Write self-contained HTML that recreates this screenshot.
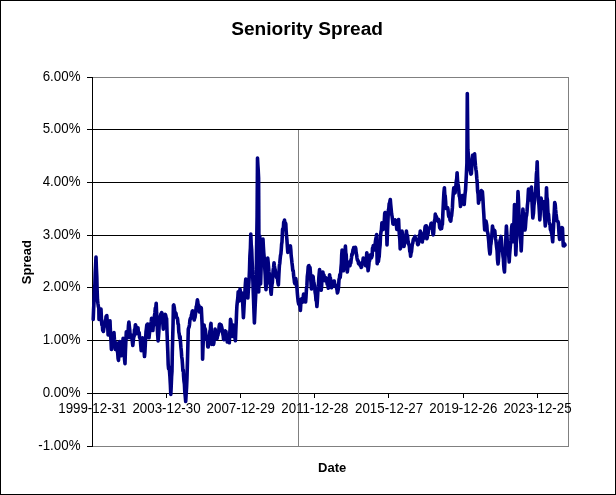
<!DOCTYPE html>
<html><head><meta charset="utf-8"><title>Seniority Spread</title>
<style>html,body{margin:0;padding:0;background:#fff;}body{width:616px;height:495px;position:relative;overflow:hidden;font-family:"Liberation Sans",sans-serif;}</style></head>
<body>
<svg width="616" height="495" viewBox="0 0 616 495" style="position:absolute;left:0;top:0;will-change:transform">
<rect x="0.5" y="0.5" width="615" height="494" fill="#fff" stroke="#000" stroke-width="1"/>
<g shape-rendering="crispEdges">
<rect x="92.5" y="77.5" width="476" height="369" fill="none" stroke="#808080" stroke-width="1"/>
<line x1="92" y1="129.5" x2="568" y2="129.5" stroke="#000" stroke-width="1"/>
<line x1="92" y1="182.5" x2="568" y2="182.5" stroke="#000" stroke-width="1"/>
<line x1="92" y1="235.5" x2="568" y2="235.5" stroke="#000" stroke-width="1"/>
<line x1="92" y1="287.5" x2="568" y2="287.5" stroke="#000" stroke-width="1"/>
<line x1="92" y1="340.5" x2="568" y2="340.5" stroke="#000" stroke-width="1"/>
<line x1="92" y1="393.5" x2="568" y2="393.5" stroke="#000" stroke-width="1"/>
<line x1="298.5" y1="130" x2="298.5" y2="446" stroke="#808080" stroke-width="1"/>
<line x1="92.5" y1="77" x2="92.5" y2="447" stroke="#000" stroke-width="1"/>
<line x1="87" y1="77.5" x2="92" y2="77.5" stroke="#000" stroke-width="1"/>
<line x1="87" y1="129.5" x2="92" y2="129.5" stroke="#000" stroke-width="1"/>
<line x1="87" y1="182.5" x2="92" y2="182.5" stroke="#000" stroke-width="1"/>
<line x1="87" y1="235.5" x2="92" y2="235.5" stroke="#000" stroke-width="1"/>
<line x1="87" y1="287.5" x2="92" y2="287.5" stroke="#000" stroke-width="1"/>
<line x1="87" y1="340.5" x2="92" y2="340.5" stroke="#000" stroke-width="1"/>
<line x1="87" y1="393.5" x2="92" y2="393.5" stroke="#000" stroke-width="1"/>
<line x1="87" y1="446.5" x2="92" y2="446.5" stroke="#000" stroke-width="1"/>
<line x1="92.5" y1="393" x2="92.5" y2="398" stroke="#000" stroke-width="1"/>
<line x1="166.5" y1="393" x2="166.5" y2="398" stroke="#000" stroke-width="1"/>
<line x1="240.5" y1="393" x2="240.5" y2="398" stroke="#000" stroke-width="1"/>
<line x1="314.5" y1="393" x2="314.5" y2="398" stroke="#000" stroke-width="1"/>
<line x1="388.5" y1="393" x2="388.5" y2="398" stroke="#000" stroke-width="1"/>
<line x1="463.5" y1="393" x2="463.5" y2="398" stroke="#000" stroke-width="1"/>
<line x1="537.5" y1="393" x2="537.5" y2="398" stroke="#000" stroke-width="1"/>
</g>
<polyline points="93.2,319.5 93.6,309.4 94.1,300.1 94.5,290.0 94.9,284.0 95.2,273.3 95.6,265.3 96.0,257.0 96.4,268.2 96.8,276.9 97.1,289.3 97.5,300.0 97.9,303.3 98.4,306.7 98.8,307.8 99.0,319.5 99.4,315.3 99.8,314.3 100.2,311.1 100.6,312.7 101.0,309.0 101.6,322.0 101.9,325.0 102.3,323.6 102.7,330.5 103.0,330.0 103.4,331.4 103.8,328.7 104.1,327.4 104.5,324.0 104.9,324.7 105.3,320.4 105.7,321.2 106.0,316.9 106.4,315.8 106.8,315.6 107.2,320.7 107.7,326.1 108.1,335.0 108.5,332.0 108.9,329.0 109.2,328.3 109.6,323.7 110.0,320.8 110.3,328.7 110.7,335.1 111.1,343.1 111.4,349.4 111.8,346.4 112.3,342.6 112.7,343.5 113.1,340.7 113.6,337.1 114.0,332.5 114.4,339.2 114.9,342.8 115.3,349.4 115.7,345.8 116.2,344.0 116.6,342.9 117.0,344.2 117.4,351.3 117.7,352.9 118.1,358.7 118.5,360.4 118.9,353.5 119.4,350.2 119.8,341.6 120.2,348.1 120.7,348.5 121.1,355.8 121.5,350.8 121.9,350.9 122.3,345.1 122.7,344.3 123.1,338.3 123.5,342.8 123.9,346.2 124.2,354.2 124.6,360.0 125.0,363.6 125.4,351.8 125.9,340.3 126.3,331.8 126.7,332.9 127.2,338.1 127.6,337.7 128.0,333.8 128.5,325.2 128.9,322.0 129.3,325.9 129.8,330.4 130.2,337.7 130.6,334.5 131.1,337.4 131.5,335.0 131.9,336.8 132.4,342.3 132.8,345.5 133.2,341.8 133.7,337.0 134.1,336.3 134.5,329.7 135.0,328.9 135.4,324.7 135.8,325.7 136.3,330.4 136.7,333.8 137.1,330.3 137.6,328.7 138.0,327.9 138.4,332.3 138.8,333.4 139.2,332.8 139.6,337.7 140.0,337.7 140.4,340.5 140.8,345.8 141.2,350.6 141.6,348.1 142.1,342.7 142.5,337.7 142.9,339.4 143.3,347.8 143.7,347.5 144.1,351.5 144.5,356.5 144.9,352.3 145.3,344.5 145.6,338.7 146.0,332.0 146.4,328.6 146.8,324.9 147.3,326.0 147.7,324.0 148.1,327.2 148.6,333.7 149.0,337.7 149.4,333.8 149.9,331.0 150.3,330.3 150.7,324.6 151.2,321.8 151.6,318.2 152.0,324.2 152.5,324.8 152.9,330.5 153.3,325.2 153.7,325.6 154.1,321.7 154.5,315.2 154.9,313.0 155.3,308.1 155.8,307.7 156.2,303.2 156.6,313.0 157.0,316.7 157.3,328.2 157.7,335.3 158.1,340.9 158.5,336.6 158.9,330.9 159.2,324.4 159.6,319.3 160.0,316.9 160.4,318.5 160.8,314.0 161.2,315.6 161.6,312.5 162.0,313.0 162.4,320.1 162.9,324.3 163.3,329.2 163.7,324.8 164.2,320.9 164.6,320.4 165.0,316.0 165.4,314.4 165.8,315.9 166.2,318.3 166.6,318.6 167.0,331.9 167.4,342.1 167.8,351.9 168.2,364.5 168.6,368.8 169.1,367.3 169.5,371.0 169.9,376.3 170.4,385.4 170.8,394.4 171.2,386.3 171.6,376.5 172.0,371.0 172.3,353.0 172.7,337.6 173.1,322.3 173.4,305.6 173.8,305.0 174.3,307.5 174.7,311.5 175.1,313.3 175.6,312.9 176.0,313.4 176.4,316.5 176.8,318.0 177.2,317.8 177.6,319.3 178.0,323.8 178.4,324.3 178.8,332.0 179.2,333.9 179.7,338.3 180.1,336.5 180.5,342.0 180.9,347.2 181.3,350.9 181.7,356.7 182.1,359.1 182.5,364.5 182.9,371.0 183.3,370.1 183.6,376.4 184.0,381.3 184.4,384.0 184.8,391.9 185.3,396.9 185.7,401.5 186.1,394.6 186.6,387.0 187.0,377.5 187.4,363.5 187.9,344.4 188.3,329.0 188.7,327.9 189.1,326.9 189.5,324.7 189.9,320.2 190.3,318.6 190.7,318.8 191.1,317.9 191.4,315.1 191.8,314.0 192.2,311.5 192.6,310.8 193.0,313.5 193.4,316.0 193.8,315.5 194.2,320.0 194.6,318.2 195.0,317.5 195.4,314.4 195.8,311.0 196.2,306.7 196.6,306.0 197.0,302.7 197.4,299.7 197.8,301.9 198.2,306.4 198.6,304.9 199.0,310.8 199.4,312.0 199.8,308.8 200.2,310.9 200.5,309.5 200.9,307.4 201.3,308.0 201.8,318.2 202.2,326.4 202.6,359.3 202.9,349.6 203.3,340.0 203.7,333.1 204.1,325.0 204.5,329.5 204.9,328.3 205.3,329.3 205.7,333.1 206.1,336.4 206.5,339.4 206.9,339.1 207.4,341.0 207.8,346.9 208.2,346.9 208.5,344.8 208.9,340.6 209.2,340.0 209.6,335.0 209.9,331.2 210.3,330.1 210.7,324.7 211.0,323.4 211.4,333.6 211.8,344.5 212.2,341.8 212.6,336.0 213.1,342.4 213.5,344.5 213.9,342.6 214.3,336.1 214.7,333.3 215.1,329.0 215.5,331.3 215.9,333.6 216.3,338.8 216.7,337.7 217.1,338.4 217.5,335.5 217.9,335.4 218.3,332.8 218.7,332.2 219.1,326.8 219.5,324.4 219.9,324.2 220.3,324.7 220.7,324.6 221.2,325.1 221.6,327.0 222.0,328.2 222.4,331.7 222.8,333.9 223.2,335.8 223.6,339.6 224.0,339.7 224.4,338.9 224.8,334.5 225.2,330.9 225.6,331.5 226.0,331.7 226.4,338.7 226.9,337.0 227.3,342.0 227.8,340.1 228.3,336.0 228.8,339.8 229.3,342.8 229.7,334.0 230.1,328.6 230.5,319.3 230.9,321.1 231.3,326.0 231.7,331.9 232.1,336.4 232.5,330.1 232.9,330.5 233.3,325.0 233.7,326.8 234.1,329.5 234.6,332.1 235.0,338.3 235.4,340.8 235.8,330.9 236.2,322.3 236.6,312.0 236.9,306.0 237.3,302.0 237.8,298.1 238.2,291.7 238.7,298.7 239.2,301.0 239.6,296.0 240.0,289.0 240.5,292.9 241.0,300.0 241.5,296.4 242.0,293.0 242.3,297.5 242.7,302.8 243.1,311.4 243.4,317.7 243.8,311.4 244.3,301.3 244.7,295.6 245.1,288.9 245.4,283.7 245.8,279.0 246.2,283.8 246.6,286.7 247.1,291.0 247.5,295.5 247.9,298.0 248.3,290.4 248.7,285.5 249.1,279.1 249.5,270.0 249.9,255.9 250.4,248.2 250.8,234.0 251.2,244.2 251.7,250.1 252.1,260.8 252.5,270.0 252.9,281.3 253.3,293.3 253.6,301.2 254.0,312.8 254.4,323.0 254.8,314.2 255.3,303.0 255.8,293.1 256.2,280.0 256.6,247.8 257.1,216.0 257.5,158.0 257.9,165.5 258.2,169.8 258.6,178.0 258.9,240.0 258.7,292.0 259.1,274.5 259.4,256.3 259.8,236.0 260.2,260.7 260.6,284.0 261.1,268.1 261.6,250.0 262.1,244.8 262.5,244.7 263.0,239.0 263.4,247.2 263.8,253.0 264.1,256.4 264.5,262.0 264.9,270.4 265.2,274.9 265.6,284.9 266.0,289.7 266.4,283.6 266.9,273.1 267.3,263.8 267.7,258.0 268.1,261.7 268.5,266.3 268.9,271.5 269.3,274.1 269.6,275.7 270.0,283.8 270.4,284.0 270.8,291.8 271.2,294.3 271.6,288.1 272.0,284.4 272.4,282.3 272.8,274.4 273.2,270.0 273.6,267.4 274.0,262.8 274.4,266.0 274.8,268.6 275.2,269.9 275.6,273.2 276.0,272.9 276.4,277.3 276.8,277.0 277.2,276.8 277.6,279.6 278.0,283.1 278.4,285.0 278.9,274.1 279.4,265.4 279.8,263.2 280.1,259.4 280.5,255.5 280.9,253.8 281.3,249.0 281.6,244.4 282.0,242.0 282.3,234.9 282.6,229.0 283.0,229.0 283.4,227.5 283.7,222.1 284.1,223.6 284.5,220.0 284.9,223.8 285.4,222.8 285.8,224.0 286.1,230.1 286.5,235.5 286.9,239.6 287.4,247.0 287.8,252.4 288.2,251.3 288.7,250.8 289.1,246.7 289.5,250.5 290.0,247.1 290.4,245.9 290.8,249.7 291.2,256.0 291.6,259.1 292.0,263.0 292.4,266.2 292.8,270.5 293.2,270.5 293.7,276.2 294.1,278.8 294.5,282.5 294.9,283.6 295.4,282.1 295.8,278.6 296.2,281.3 296.6,286.2 297.0,288.3 297.4,293.8 297.8,298.0 298.2,301.7 298.7,304.2 299.1,304.1 299.5,305.3 300.0,306.7 300.4,310.4 300.7,305.5 301.0,299.4 301.4,302.1 301.8,298.5 302.2,302.4 302.6,299.0 303.0,302.0 303.3,296.4 303.6,294.0 304.0,294.2 304.4,298.2 304.8,297.9 305.2,299.6 305.6,302.0 306.0,296.8 306.5,288.2 306.9,285.7 307.3,276.6 307.8,272.8 308.2,266.9 308.6,265.7 308.9,265.6 309.3,267.4 309.6,267.1 310.0,267.5 310.5,274.0 310.9,281.4 311.4,289.0 311.8,284.8 312.3,278.6 312.7,276.0 313.1,276.5 313.5,280.8 313.9,283.0 314.3,284.5 314.7,286.4 315.1,292.2 315.6,295.0 316.0,300.3 316.5,301.1 316.9,306.5 317.3,301.9 317.6,296.4 318.0,289.0 318.4,286.2 318.8,278.3 319.2,273.4 319.6,269.5 320.0,276.9 320.4,278.4 320.8,287.7 321.2,290.3 321.6,286.2 322.1,276.2 322.5,272.0 322.9,272.0 323.3,275.8 323.6,274.7 324.0,275.2 324.4,278.6 324.8,280.6 325.2,278.8 325.6,280.9 326.0,277.8 326.4,280.0 326.8,281.2 327.2,284.3 327.5,282.5 327.9,285.1 328.3,288.3 328.7,284.7 329.2,281.4 329.6,274.7 330.0,279.7 330.4,277.9 330.8,282.5 331.2,286.4 331.6,287.7 332.0,286.7 332.4,286.6 332.7,283.0 333.1,281.3 333.5,282.5 333.9,281.0 334.3,281.1 334.7,284.3 335.1,284.6 335.5,285.0 335.9,286.9 336.3,286.3 336.6,288.1 337.0,289.8 337.4,292.9 337.8,291.8 338.2,289.7 338.6,286.5 339.0,279.4 339.4,278.6 339.8,274.6 340.2,277.5 340.6,273.4 341.0,267.4 341.4,263.1 341.7,254.9 342.1,250.0 342.5,256.8 343.0,263.9 343.4,270.8 343.8,265.5 344.2,261.4 344.6,253.4 345.0,252.0 345.4,246.0 345.8,253.0 346.2,254.7 346.5,261.4 346.9,268.0 347.3,272.0 347.7,268.5 348.2,264.4 348.6,263.0 349.1,262.1 349.5,264.8 350.0,265.6 350.4,260.8 350.8,263.0 351.1,260.2 351.5,257.4 351.9,254.0 352.3,254.6 352.7,252.1 353.0,249.6 353.4,249.3 353.8,247.5 354.2,247.8 354.6,250.5 355.0,249.9 355.4,247.3 355.8,248.8 356.2,253.3 356.6,254.8 356.9,257.3 357.3,259.8 357.7,260.5 358.1,260.5 358.5,263.6 358.9,264.0 359.3,263.5 359.7,263.0 360.1,265.2 360.5,266.0 360.8,264.9 361.2,267.4 361.6,267.0 362.0,263.2 362.4,263.0 362.8,262.0 363.2,258.1 363.6,259.0 364.0,259.6 364.4,262.4 364.7,263.6 365.1,262.9 365.5,265.6 365.9,263.6 366.4,257.9 366.8,252.7 367.2,257.9 367.7,265.6 368.1,270.8 368.5,268.0 368.9,264.7 369.2,260.7 369.6,260.8 370.0,255.0 370.5,256.7 370.9,258.0 371.4,257.9 371.8,256.8 372.2,255.4 372.5,248.0 372.9,248.6 373.3,245.5 373.7,248.2 374.2,247.2 374.6,250.0 375.0,246.4 375.4,241.5 375.8,239.1 376.2,237.0 376.6,234.5 377.2,263.7 377.6,260.2 378.0,259.5 378.4,261.5 378.8,258.2 379.2,256.5 379.6,249.6 380.1,245.1 380.5,235.8 381.0,231.9 381.4,229.8 381.9,222.9 382.3,225.8 382.8,228.8 383.2,229.4 383.6,223.8 384.0,223.1 384.3,220.6 384.7,213.5 385.1,212.5 385.5,218.6 386.0,218.4 386.4,224.0 386.7,234.3 387.0,244.9 387.5,231.5 387.9,221.6 388.4,210.0 388.8,208.5 389.2,203.5 389.5,206.0 389.9,201.2 390.3,199.5 390.7,204.4 391.2,209.5 391.6,213.8 392.1,216.5 392.5,219.5 393.0,224.0 393.4,224.2 393.8,223.1 394.2,221.0 394.7,222.7 395.1,219.9 395.5,220.3 395.9,220.8 396.4,225.0 396.8,229.4 397.2,225.0 397.5,223.7 397.9,224.8 398.2,220.9 398.6,219.5 399.0,228.9 399.4,235.5 399.8,239.3 400.2,249.0 400.6,247.9 400.9,244.1 401.3,236.0 401.6,236.7 402.0,231.0 402.4,233.7 402.8,237.1 403.2,242.8 403.6,242.1 404.0,246.5 404.4,244.0 404.8,243.6 405.2,239.9 405.6,236.0 406.0,236.1 406.4,231.0 406.8,234.8 407.1,235.9 407.5,235.5 407.9,240.3 408.2,241.6 408.6,244.0 409.0,244.9 409.4,246.6 409.8,251.5 410.2,251.9 410.6,256.3 411.0,253.3 411.5,251.7 411.9,247.9 412.3,244.2 412.8,243.1 413.2,240.0 413.6,238.8 413.9,239.9 414.3,237.9 414.6,239.5 415.0,236.2 415.5,239.8 415.9,240.0 416.4,240.0 416.8,239.4 417.2,239.6 417.6,244.4 418.0,244.7 418.4,244.0 418.8,242.0 419.2,238.1 419.5,235.0 419.9,234.6 420.3,231.0 420.7,233.5 421.1,235.9 421.5,238.3 421.9,241.1 422.3,242.0 422.7,238.4 423.1,236.8 423.4,238.7 423.8,236.4 424.2,232.3 424.6,233.0 425.0,227.3 425.4,226.1 425.8,225.9 426.2,225.8 426.5,231.9 426.8,238.8 427.2,237.7 427.7,233.3 428.1,233.8 428.5,229.6 429.0,228.0 429.4,228.4 429.8,228.3 430.2,226.6 430.6,226.0 431.0,223.6 431.4,223.2 431.8,225.4 432.2,226.4 432.5,229.4 432.9,233.8 433.3,234.9 433.7,232.5 434.1,224.3 434.5,220.4 434.9,219.8 435.3,214.0 435.7,216.0 436.1,218.0 436.4,216.5 436.8,218.9 437.2,220.6 437.6,218.9 438.1,221.3 438.5,219.3 438.9,220.6 439.3,224.0 439.7,227.7 440.1,226.2 440.5,229.0 440.9,228.4 441.3,228.5 441.6,228.5 442.0,225.0 442.4,224.5 442.9,212.6 443.4,202.0 443.9,192.8 444.4,187.7 444.8,194.8 445.2,195.9 445.6,201.1 446.0,208.4 446.4,208.5 446.8,207.9 447.2,208.8 447.6,207.6 448.0,209.6 448.5,215.1 448.9,216.7 449.3,215.4 449.7,217.0 450.0,220.2 450.4,218.1 450.8,221.2 451.2,216.9 451.6,215.9 452.0,211.5 452.4,207.7 452.7,200.9 453.1,195.4 453.4,191.7 453.8,187.7 454.2,190.6 454.7,190.5 455.1,192.9 455.5,186.9 455.9,185.9 456.3,181.1 456.7,178.9 457.1,172.7 457.5,179.6 458.0,184.0 458.4,186.4 458.8,190.1 459.2,196.0 459.7,197.4 460.1,201.5 460.5,206.5 460.9,203.8 461.2,204.4 461.6,202.0 461.9,196.4 462.3,195.5 462.7,196.6 463.1,198.4 463.4,200.2 463.8,202.2 464.2,204.5 464.6,199.2 465.1,193.4 465.5,190.3 466.0,181.5 466.4,173.6 466.9,163.0 467.3,93.5 467.9,150.0 468.3,154.1 468.7,159.5 469.2,162.0 469.6,163.9 470.0,169.5 470.5,172.1 470.9,174.1 471.4,173.4 471.8,166.2 472.3,158.8 472.7,155.2 473.1,155.0 473.5,154.9 473.8,154.8 474.2,156.6 474.6,153.9 475.0,159.9 475.5,165.9 475.9,169.5 476.3,171.6 476.8,178.4 477.2,182.5 477.6,190.9 478.1,194.1 478.5,203.2 478.9,199.0 479.3,200.3 479.7,199.1 480.1,192.8 480.5,192.9 480.9,193.3 481.3,190.5 481.6,193.4 482.0,192.6 482.4,191.6 482.9,198.5 483.4,208.0 483.8,213.9 484.3,224.0 484.7,230.0 485.1,227.1 485.6,225.4 486.0,221.0 486.4,223.1 486.8,225.4 487.2,231.2 487.6,232.3 488.0,234.0 488.4,238.0 488.8,242.2 489.1,247.1 489.5,251.1 489.9,254.0 490.3,252.2 490.6,245.5 491.0,243.7 491.4,238.9 491.8,235.8 492.1,231.6 492.5,226.0 492.9,228.6 493.3,229.7 493.6,230.9 494.0,230.1 494.4,230.3 494.8,231.0 495.2,235.3 495.5,239.0 495.9,240.2 496.2,243.4 496.6,247.0 497.1,250.8 497.5,259.6 498.0,264.0 498.4,260.9 498.9,252.0 499.3,247.0 499.7,242.6 500.1,240.2 500.6,238.7 501.0,236.4 501.4,239.9 501.8,247.9 502.2,250.0 502.6,251.4 503.0,256.3 503.4,259.0 503.7,265.4 504.1,269.8 504.5,272.0 504.9,261.0 505.2,251.1 505.6,244.0 506.0,234.8 506.4,226.0 506.8,232.4 507.2,240.1 507.6,241.6 508.0,250.0 508.4,252.0 508.8,256.4 509.2,262.0 509.6,254.5 510.1,248.6 510.5,244.0 510.9,240.4 511.2,234.9 511.6,228.2 512.0,224.9 512.4,228.9 512.9,235.0 513.3,241.8 513.7,227.7 514.1,218.3 514.5,204.5 514.9,220.4 515.4,238.4 515.8,255.0 516.2,246.1 516.5,233.8 516.9,222.1 517.3,214.7 517.6,204.3 518.0,191.6 518.5,200.7 518.9,211.7 519.3,223.8 519.8,231.4 520.1,236.2 520.5,239.7 520.9,243.8 521.2,251.0 521.6,242.8 522.0,231.6 522.5,218.9 522.9,209.0 523.3,213.3 523.7,217.5 524.2,220.4 524.6,228.3 525.0,230.0 525.4,227.2 525.8,221.4 526.2,216.6 526.6,215.4 527.0,211.9 527.4,205.5 527.8,202.0 528.1,195.8 528.5,189.0 528.9,192.3 529.2,192.7 529.6,195.5 530.0,200.0 530.5,194.7 530.9,190.1 531.4,187.0 531.9,199.3 532.3,207.8 532.8,218.0 533.2,215.1 533.5,213.2 533.9,205.8 534.2,203.5 534.6,199.7 535.0,194.0 535.5,192.0 535.9,185.8 536.4,174.3 536.8,170.9 537.2,161.7 537.6,176.3 538.1,188.9 538.5,200.0 538.9,204.5 539.4,212.1 539.8,220.0 540.2,213.8 540.7,203.2 541.1,198.0 541.6,201.2 542.0,204.5 542.5,208.0 543.0,207.2 543.5,201.7 544.0,208.2 544.4,215.7 544.8,218.9 545.3,226.0 545.7,214.7 546.1,200.0 546.5,187.7 546.9,197.1 547.4,200.1 547.8,209.5 548.1,214.3 548.5,214.2 548.9,219.1 549.2,222.0 549.6,224.1 550.0,224.2 550.4,229.7 550.8,228.9 551.2,231.9 551.6,233.4 552.0,234.6 552.3,238.3 552.7,241.8 553.1,233.8 553.5,227.2 553.9,217.6 554.3,211.4 554.7,202.6 555.2,204.2 555.6,209.4 556.0,213.4 556.5,217.3 556.9,220.8 557.2,221.1 557.6,221.3 558.0,221.5 558.4,223.4 558.8,229.8 559.2,236.0 559.6,239.4 560.1,235.6 560.5,234.8 561.0,232.0 561.4,230.8 561.8,227.5 562.1,231.6 562.5,228.0 562.9,238.5 563.3,245.8 563.7,244.1 564.1,246.0 564.6,244.1 565.0,245.0" fill="none" stroke="#000080" stroke-width="3.6" stroke-linejoin="round" stroke-linecap="round"/>
<g font-family="Liberation Sans, sans-serif" fill="#000">
<text transform="translate(307.1,34.6)" font-size="19.1px" font-weight="bold" text-anchor="middle">Seniority Spread</text>
<text transform="translate(80.5,81) scale(1,1.11)" font-size="13.33px" text-anchor="end">6.00%</text>
<text transform="translate(80.5,133) scale(1,1.11)" font-size="13.33px" text-anchor="end">5.00%</text>
<text transform="translate(80.5,186) scale(1,1.11)" font-size="13.33px" text-anchor="end">4.00%</text>
<text transform="translate(80.5,239) scale(1,1.11)" font-size="13.33px" text-anchor="end">3.00%</text>
<text transform="translate(80.5,291) scale(1,1.11)" font-size="13.33px" text-anchor="end">2.00%</text>
<text transform="translate(80.5,344) scale(1,1.11)" font-size="13.33px" text-anchor="end">1.00%</text>
<text transform="translate(80.5,397) scale(1,1.11)" font-size="13.33px" text-anchor="end">0.00%</text>
<text transform="translate(80.5,450) scale(1,1.11)" font-size="13.33px" text-anchor="end">-1.00%</text>
<text transform="translate(92.3,413) scale(1,1.11)" font-size="13.33px" text-anchor="middle">1999-12-31</text>
<text transform="translate(166.5,413) scale(1,1.11)" font-size="13.33px" text-anchor="middle">2003-12-30</text>
<text transform="translate(240.7,413) scale(1,1.11)" font-size="13.33px" text-anchor="middle">2007-12-29</text>
<text transform="translate(314.9,413) scale(1,1.11)" font-size="13.33px" text-anchor="middle">2011-12-28</text>
<text transform="translate(389.1,413) scale(1,1.11)" font-size="13.33px" text-anchor="middle">2015-12-27</text>
<text transform="translate(463.3,413) scale(1,1.11)" font-size="13.33px" text-anchor="middle">2019-12-26</text>
<text transform="translate(537.5,413) scale(1,1.11)" font-size="13.33px" text-anchor="middle">2023-12-25</text>
<text transform="translate(332.2,471.7)" font-size="13px" font-weight="bold" text-anchor="middle">Date</text>
<text transform="translate(30.8,262.2) rotate(-90)" font-size="13px" font-weight="bold" text-anchor="middle">Spread</text>
</g>
</svg>
</body></html>
